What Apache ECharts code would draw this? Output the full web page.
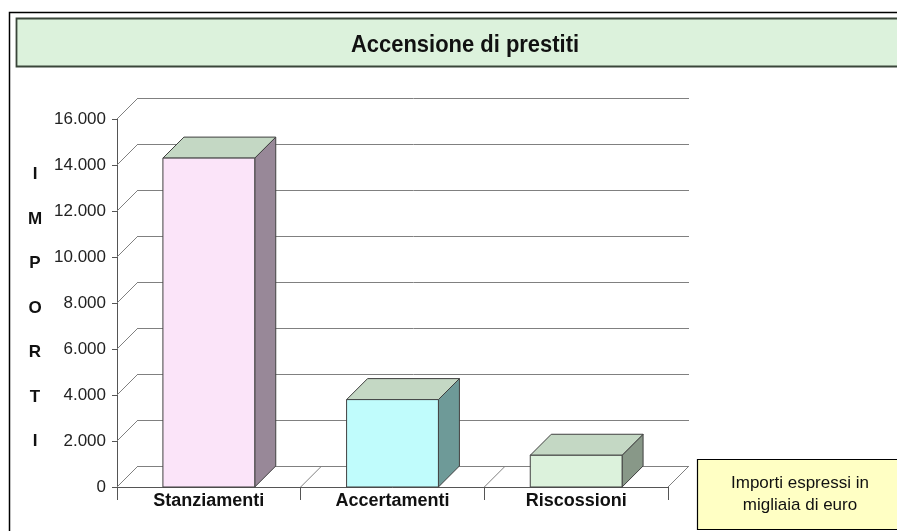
<!DOCTYPE html>
<html><head><meta charset="utf-8">
<script src="https://cdn.jsdelivr.net/npm/echarts@6/dist/echarts.min.js"></script>
<style>html,body{margin:0;padding:0;background:#fff}#c{width:897px;height:531px}</style>
</head><body><div id="c"></div>
<script>
// ---- data ----
const categories = ['Stanziamenti', 'Accertamenti', 'Riscossioni'];
const values = [14300, 3800, 1380];
const yTicks = [0, 2000, 4000, 6000, 8000, 10000, 12000, 14000, 16000];
const yTitleLetters = ['I', 'M', 'P', 'O', 'R', 'T', 'I'];
const titleText = 'Accensione di prestiti';
const noteLines = ['Importi espressi in', 'migliaia di euro'];

// ---- styles ----
const frontColors = ['#fbe4f9', '#c0fcfc', '#dcf2dc'];
const sideColors = ['#988898', '#6e9a98', '#889888'];
const topColor = '#c4d8c4';
const edgeColor = '#404040';
const DX = 21, DY = 21;
const FONT = "'Liberation Sans', Arial, sans-serif";

function fmt(v) { return String(v).replace(/\B(?=(\d{3})+(?!\d))/g, '.'); }

const chart = echarts.init(document.getElementById('c'), null, { renderer: 'canvas' });

const grids = [
  { left: 117, top: 119, width: 551, height: 368, containLabel: false },
  { left: 117 + DX, top: 119 - DY, width: 551, height: 368, show: true, borderColor: '#808080', borderWidth: 1, backgroundColor: 'transparent' }
];

const yMax = yTicks[yTicks.length - 1];
const yStep = yTicks[1] - yTicks[0];

const option = {
  animation: false,
  backgroundColor: '#ffffff',
  grid: grids,
  xAxis: [
    {
      gridIndex: 0, type: 'category', data: categories, boundaryGap: true,
      axisLine: { show: true, lineStyle: { color: '#555', width: 1 } },
      axisTick: { show: true, length: 13, alignWithLabel: false, lineStyle: { color: '#555' } },
      axisLabel: { margin: 5, fontFamily: FONT, fontWeight: 'bold', fontSize: 18, color: '#111' },
      splitLine: { show: false }
    },
    {
      gridIndex: 1, type: 'category', data: categories, boundaryGap: true,
      axisLine: { show: false }, axisTick: { show: false }, axisLabel: { show: false }, splitLine: { show: false }
    }
  ],
  yAxis: [
    {
      gridIndex: 0, type: 'value', min: 0, max: yMax, interval: yStep,
      axisLine: { show: true, lineStyle: { color: '#555', width: 1 } },
      axisTick: { show: true, length: 5, lineStyle: { color: '#555' } },
      axisLabel: { margin: 11, fontFamily: FONT, fontSize: 17, color: '#222', formatter: v => fmt(v) },
      splitLine: { show: false }
    },
    {
      gridIndex: 1, type: 'value', min: 0, max: yMax, interval: yStep,
      axisLine: { show: false }, axisTick: { show: false }, axisLabel: { show: false },
      splitLine: { show: true, lineStyle: { color: '#808080', width: 1 } }
    }
  ],
  graphic: [
    { type: 'rect', z: 0, shape: { x: 9.5, y: 12.5, width: 900, height: 530 }, style: { fill: '#fff', stroke: '#000', lineWidth: 1.5 } },
    { type: 'rect', z: 1, shape: { x: 16.5, y: 18.5, width: 890, height: 48 }, style: { fill: '#dcf2dc', stroke: '#3a463a', lineWidth: 1.8 } },
    { type: 'text', z: 2, x: 465, y: 45, scaleX: 0.915, style: { text: titleText, fontFamily: FONT, fontWeight: 'bold', fontSize: 24, fill: '#111', textAlign: 'center', textVerticalAlign: 'middle' } },
    { type: 'text', z: 2, x: 35, y: 308, style: { text: yTitleLetters.join('\n'), fontFamily: FONT, fontWeight: 'bold', fontSize: 17, lineHeight: 44.5, fill: '#111', textAlign: 'center', textVerticalAlign: 'middle' } },
    { type: 'rect', z: 1, shape: { x: 697.5, y: 459.5, width: 210, height: 70 }, style: { fill: '#ffffc4', stroke: '#000', lineWidth: 1.2 } },
    { type: 'text', z: 2, x: 800, y: 494, style: { text: noteLines.join('\n'), fontFamily: FONT, fontSize: 17, lineHeight: 22, fill: '#111', textAlign: 'center', textVerticalAlign: 'middle' } }
  ],
  series: [
    {
      // left wall diagonals at each y tick
      type: 'custom', xAxisIndex: 0, yAxisIndex: 0, z: 3, clip: false, silent: true,
      data: yTicks.map(v => [0, v]),
      renderItem: function (params, api) {
        const y = api.coord([0, api.value(1)])[1];
        const x = params.coordSys.x;
        return { type: 'line', shape: { x1: x, y1: y, x2: x + DX, y2: y - DY }, style: { stroke: '#808080', lineWidth: 1 } };
      }
    },
    {
      // floor diagonals at category boundaries
      type: 'custom', xAxisIndex: 0, yAxisIndex: 0, z: 3, clip: false, silent: true,
      data: categories.map((c, i) => [i, 0]),
      renderItem: function (params, api) {
        const p = api.coord([api.value(0), 0]);
        const w = api.size([1, 0])[0];
        const children = [];
        const xl = p[0] - w / 2;
        children.push({ type: 'line', shape: { x1: xl, y1: p[1], x2: xl + DX, y2: p[1] - DY }, style: { stroke: '#808080', lineWidth: 1 } });
        if (params.dataIndex === categories.length - 1) {
          const xr = p[0] + w / 2;
          children.push({ type: 'line', shape: { x1: xr, y1: p[1], x2: xr + DX, y2: p[1] - DY }, style: { stroke: '#808080', lineWidth: 1 } });
        }
        return { type: 'group', children: children };
      }
    },
    {
      // 3D bars
      type: 'custom', xAxisIndex: 0, yAxisIndex: 0, z: 5, clip: false,
      data: values.map((v, i) => [i, v]),
      renderItem: function (params, api) {
        const i = params.dataIndex;
        const top = api.coord([api.value(0), api.value(1)]);
        const base = api.coord([api.value(0), 0]);
        const bw = api.size([1, 0])[0] * 0.5;
        const x0 = top[0] - bw / 2, x1 = top[0] + bw / 2;
        const yt = top[1], yb = base[1];
        const st = { stroke: edgeColor, lineWidth: 1, lineJoin: 'round' };
        return {
          type: 'group',
          children: [
            { type: 'polygon', shape: { points: [[x1, yb], [x1 + DX, yb - DY], [x1 + DX, yt - DY], [x1, yt]] }, style: Object.assign({ fill: sideColors[i] }, st) },
            { type: 'polygon', shape: { points: [[x0, yt], [x1, yt], [x1 + DX, yt - DY], [x0 + DX, yt - DY]] }, style: Object.assign({ fill: topColor }, st) },
            { type: 'rect', shape: { x: x0, y: yt, width: x1 - x0, height: yb - yt }, style: Object.assign({ fill: frontColors[i] }, st) }
          ]
        };
      }
    }
  ]
};
chart.setOption(option);
</script>
</body></html>
